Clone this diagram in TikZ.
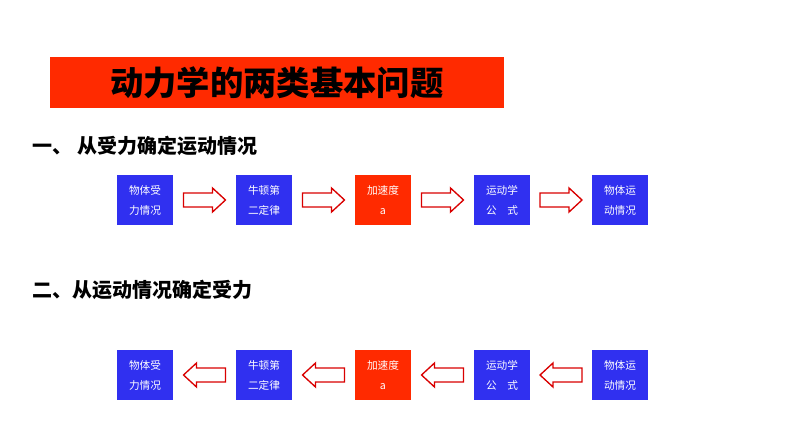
\documentclass[tikz,border=0pt]{standalone}
\usepackage{fontspec}
\setmainfont{Noto Sans CJK SC}
\usetikzlibrary{calc}
\definecolor{bx}{HTML}{3030F0}
\definecolor{rx}{HTML}{FF2A00}
\begin{document}
\begin{tikzpicture}[x=0.75pt,y=-0.75pt,
 box/.style={minimum width=42pt,minimum height=37.5pt,inner sep=0pt,text=white,font=\fontsize{8}{15}\selectfont,align=center},
 bb/.style={box,fill=bx},
 rb/.style={box,fill=rx},
 arrs/.style={draw=red!85!black,fill=white,line width=1pt,line join=miter}]
\useasboundingbox (0,0) rectangle (794,447);
\node[fill=rx,minimum width=340pt,minimum height=38pt,font=\fontsize{25}{25}\selectfont\bfseries,anchor=north west] (t) at (50,57) {动力学的两类基本问题};
\node[anchor=west,font=\fontsize{15}{15}\selectfont\bfseries] (h1) at (28,146) {一、\ 从受力确定运动情况};
\node[anchor=west,font=\fontsize{15}{15}\selectfont\bfseries] (h2) at (28,290) {二、从运动情况确定受力};
\foreach \r/\y in {a/200,b/375}{
 \node[bb] (\r1) at (145,\y) {物体受\\力情况};
 \node[bb] (\r2) at (264,\y) {牛顿第\\二定律};
 \node[rb] (\r3) at (383,\y) {加速度\\a};
 \node[bb] (\r4) at (502,\y) {运动学\\公\quad 式};
 \node[bb] (\r5) at (620,\y) {物体运\\动情况};
}
\foreach \i/\j in {1/2,2/3,3/4,4/5}{
 \draw[arrs] ($(a\i.east)!0.5!(a\j.west)$) ++(-21,-7) -- ++(29,0) -- ++(0,-5) -- ++(13,12) -- ++(-13,12) -- ++(0,-5) -- ++(-29,0) -- cycle;
 \draw[arrs] ($(b\i.east)!0.5!(b\j.west)$) ++(21,-7) -- ++(-29,0) -- ++(0,-5) -- ++(-13,12) -- ++(13,12) -- ++(0,-5) -- ++(29,0) -- cycle;
}
\end{tikzpicture}
\end{document}
